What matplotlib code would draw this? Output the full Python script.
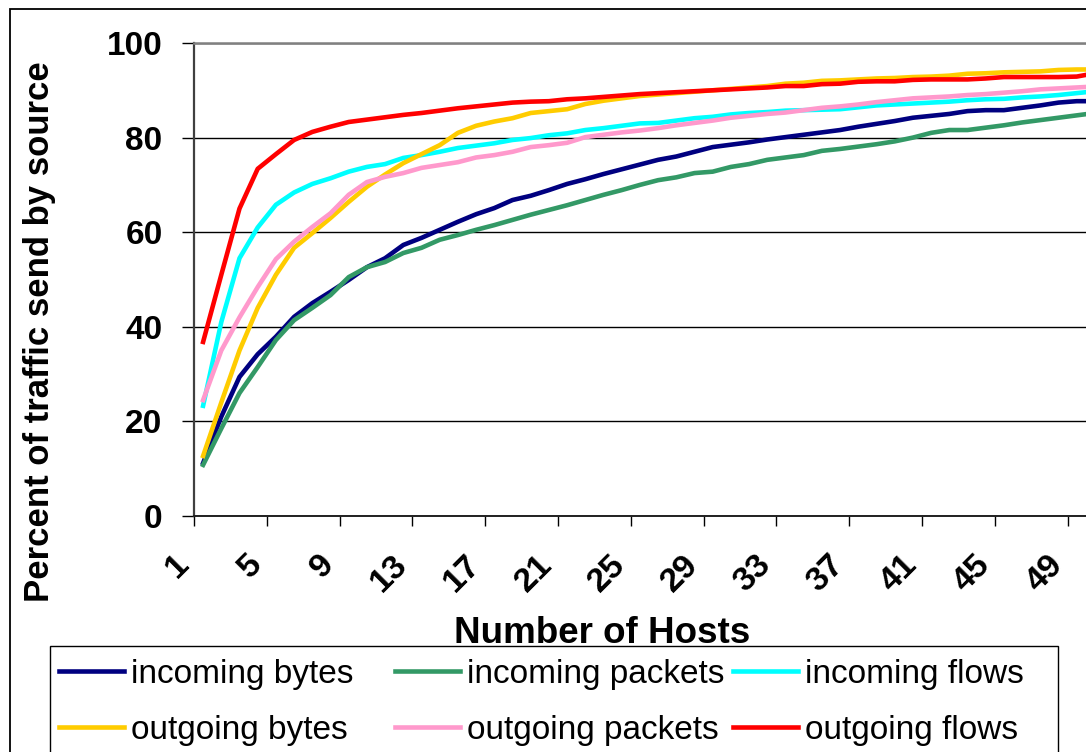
import numpy as np
import matplotlib.pyplot as plt
from matplotlib.patches import Rectangle
from matplotlib.transforms import ScaledTranslation

plt.rcParams['font.family'] = ['Liberation Sans', 'DejaVu Sans']

hosts = np.arange(1, 51)

in_bytes = [11.2, 21, 29.4, 34.2, 37.9, 42.1, 45, 47.4, 49.9, 52.6,
            54.5, 57.3, 58.8, 60.5, 62.2, 63.8, 65.1, 66.8, 67.7, 68.9,
            70.2, 71.2, 72.3, 73.3, 74.3, 75.3, 76.0, 77.0, 78.0, 78.5,
            79.0, 79.6, 80.1, 80.6, 81.1, 81.6, 82.3, 82.9, 83.5, 84.2,
            84.6, 85.0, 85.6, 85.8, 85.8, 86.3, 86.8, 87.4, 87.7, 87.7]
in_packets = [10.8, 18.5, 26, 31.5, 37.2, 41.4, 44, 46.7, 50.5, 52.6,
              53.7, 55.6, 56.7, 58.4, 59.4, 60.5, 61.5, 62.6, 63.7, 64.7,
              65.7, 66.8, 67.9, 68.9, 70.0, 71.0, 71.6, 72.5, 72.8, 73.8,
              74.4, 75.3, 75.8, 76.3, 77.2, 77.6, 78.1, 78.6, 79.2, 80.0,
              81.0, 81.6, 81.6, 82.1, 82.6, 83.2, 83.7, 84.2, 84.7, 85.2]
in_flows = [23.3, 41, 54.5, 61, 65.8, 68.4, 70.2, 71.4, 72.8, 73.8,
            74.4, 75.7, 76.3, 77.0, 77.8, 78.3, 78.8, 79.5, 79.9, 80.5,
            80.9, 81.6, 82.0, 82.5, 83.0, 83.1, 83.6, 84.1, 84.4, 84.9,
            85.2, 85.4, 85.7, 85.8, 85.9, 86.0, 86.4, 86.8, 87.0, 87.2,
            87.4, 87.6, 87.9, 88.1, 88.2, 88.5, 88.7, 89.0, 89.4, 89.8]
out_bytes = [12.7, 24, 35, 44, 51, 56.7, 59.8, 63, 66.4, 69.6,
             72.2, 74.6, 76.5, 78.4, 81, 82.5, 83.4, 84.1, 85.2, 85.6,
             86, 87.1, 87.8, 88.3, 88.8, 89.1, 89.4, 89.7, 90.0, 90.3,
             90.6, 90.9, 91.4, 91.6, 92.0, 92.1, 92.3, 92.5, 92.6, 92.8,
             92.9, 93.1, 93.5, 93.6, 93.8, 93.9, 94.0, 94.3, 94.4, 94.4]
out_packets = [24.5, 35, 42, 48.4, 54.3, 58, 61.1, 64, 67.9, 70.6,
               71.7, 72.5, 73.6, 74.2, 74.8, 75.8, 76.3, 77, 78, 78.4,
               78.9, 80.1, 80.6, 81.1, 81.5, 82.0, 82.6, 83.1, 83.6, 84.2,
               84.6, 85.0, 85.3, 85.8, 86.3, 86.6, 87.0, 87.5, 87.9, 88.3,
               88.5, 88.7, 89.0, 89.2, 89.5, 89.8, 90.2, 90.4, 90.6, 90.8]
out_flows = [36.8, 51, 65, 73.4, 76.5, 79.5, 81.2, 82.3, 83.3, 83.8,
             84.3, 84.8, 85.2, 85.7, 86.2, 86.6, 87.0, 87.4, 87.6, 87.7,
             88.1, 88.3, 88.6, 88.9, 89.2, 89.4, 89.6, 89.8, 90.0, 90.2,
             90.4, 90.6, 90.9, 90.9, 91.3, 91.4, 91.8, 91.9, 91.9, 92.2,
             92.3, 92.3, 92.3, 92.5, 92.8, 92.8, 92.8, 92.8, 92.9, 93.6]

names = ["incoming bytes", "incoming packets", "incoming flows",
         "outgoing bytes", "outgoing packets", "outgoing flows"]
colors = ["#000080", "#339966", "#00FFFF", "#FFCC00", "#FF99CC", "#FF0000"]

W, H = 1086, 752
fig = plt.figure(figsize=(W / 100, H / 100), dpi=100)
ax = fig.add_axes([194 / W, 236 / H, 910 / W, 473 / H])

lines = []
for vals, name, col in zip([in_bytes, in_packets, in_flows, out_bytes, out_packets, out_flows], names, colors):
    ln, = ax.plot(hosts, vals, color=col, lw=3.3, label=name)
    lines.append(ln)

ax.set_xlim(0.5, 50.5)
ax.set_ylim(0, 100)
ax.set_yticks(range(0, 101, 20))
ax.yaxis.grid(True, color="black", lw=1)
ax.set_axisbelow(True)

ax.spines["top"].set_color("#808080")
ax.spines["top"].set_linewidth(1.8)
ax.spines["left"].set_color("#404040")
ax.spines["left"].set_linewidth(1.6)
ax.spines["bottom"].set_color("#202020")
ax.spines["bottom"].set_linewidth(1.4)
ax.spines["right"].set_visible(False)

ax.tick_params(axis="y", length=8.6, width=1, pad=14, labelsize=24, color="black")
for t in ax.get_yticklabels():
    t.set_fontweight("bold")

# tick marks between categories, labels on every 4th category
ax.set_xticks(np.arange(0.5, 51, 4))
ax.set_xticks(hosts[::4], labels=[str(h) for h in hosts[::4]], minor=True)
ax.tick_params(axis="x", which="major", length=7, width=1, labelbottom=False)
ax.tick_params(axis="x", which="minor", length=0, pad=31.7, labelsize=24.5)
for t in ax.get_xticklabels(minor=True):
    t.set_rotation(45)
    t.set_ha("right")
    t.set_va("center")
    t.set_rotation_mode("anchor")
    t.set_fontweight("bold")
    t.set_transform(t.get_transform() + ScaledTranslation(-0.19, 0, fig.dpi_scale_trans))

fig.text(40 / W, 1 - 332 / H, "Percent of traffic send by source", rotation=90,
         ha="center", va="center", fontsize=25, fontweight="bold")
fig.text(602 / W, 1 - 643 / H, "Number of Hosts", ha="center", va="baseline",
         fontsize=26.5, fontweight="bold")

# chart border and legend frame (both run off the picture)
fig.add_artist(Rectangle((10 / W, -0.1), 2, 1 - 9 / H + 0.1, transform=fig.transFigure,
                         fill=False, ec="black", lw=1.3))
fig.add_artist(Rectangle((50 / W, -0.1), (1058 - 50) / W, (H - 646) / H + 0.1,
                         transform=fig.transFigure, fill=False, ec="black", lw=1))

for i, x0 in enumerate([59, 395, 733]):
    fig.legend(handles=[lines[i], lines[i + 3]], loc="upper left",
               bbox_to_anchor=(x0 / W, 1 - 659 / H), frameon=False, fontsize=24,
               handlelength=1.95, handletextpad=0.21, labelspacing=0.75,
               borderpad=0, borderaxespad=0)

fig.savefig("out.png", dpi=100, facecolor="white")
